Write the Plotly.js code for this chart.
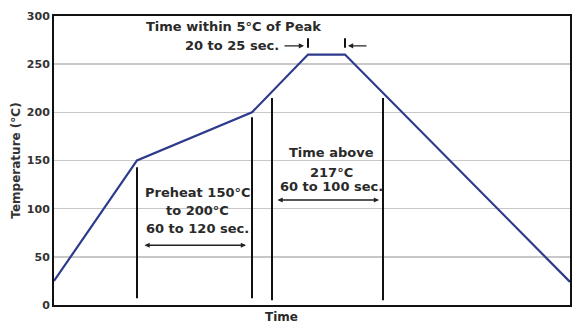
<!DOCTYPE html>
<html><head><meta charset="utf-8">
<script src="https://cdn.plot.ly/plotly-3.0.1.min.js"></script>
<style>html,body{margin:0;padding:0;background:#fff}#c{width:574px;height:323px}</style>
</head><body><div id="c"></div>
<script>
// Reflow profile (time in arbitrary units, temperature in °C)
var profileTime = [0, 83, 198, 254, 291, 516];
var profileTemp = [25, 150, 200, 260, 260, 24];

// Vertical marker lines: x position, top temp, bottom temp
var markerX = [83, 198, 218, 329];
var markerTop = [143, 195, 215, 215];
var markerBottom = [7, 7, 5, 5];

// Peak-window ticks
var peakTickX = [254, 291];
var peakTickTop = 277, peakTickBottom = 267;

// Span arrows: [x0, x1, y]
var preheatSpan = [89, 192, 62];
var aboveSpan = [222, 325, 109];

var yTicks = [0, 50, 100, 150, 200, 250, 300];

var textColor = '#2a2a2a';
var fam = 'DejaVu Sans, Verdana, sans-serif';
var font = {family: fam, size: 13, color: textColor, weight: 'bold'};

var shapes = [];
markerX.forEach(function(x, i){
  shapes.push({type:'line', xref:'x', yref:'y', x0:x, x1:x, y0:markerBottom[i], y1:markerTop[i], line:{color:'#111', width:2}});
});
peakTickX.forEach(function(x){
  shapes.push({type:'line', xref:'x', yref:'y', x0:x, x1:x, y0:peakTickBottom, y1:peakTickTop, line:{color:'#111', width:2}});
});

function arrow(x, y, ax, ay, both){
  return {x:x, y:y, ax:ax, ay:ay, xref:'x', yref:'y', axref:'x', ayref:'y', text:'', showarrow:true,
    arrowhead:2, startarrowhead:2, arrowside: both ? 'end+start' : 'end', arrowsize:0.8, arrowwidth:1.3, arrowcolor:'#222'};
}
function label(x, y, t){
  return {x:x, y:y, xref:'x', yref:'y', text:t, showarrow:false, font:font, xanchor:'center', yanchor:'middle'};
}

var annotations = [
  label(179, 289, 'Time within 5°C of Peak'),
  label(177.5, 269, '20 to 25 sec.'),
  arrow(250, 269, 229, 269, false),
  arrow(294, 269, 314, 269, false),
  label(143.5, 117, 'Preheat 150°C'),
  label(143.5, 97.6, 'to 200°C'),
  label(143.5, 79, '60 to 120 sec.'),
  arrow(preheatSpan[1], preheatSpan[2], preheatSpan[0], preheatSpan[2], true),
  label(277, 158, 'Time above'),
  label(277, 138, '217°C'),
  label(277, 122.5, '60 to 100 sec.'),
  arrow(aboveSpan[1], aboveSpan[2], aboveSpan[0], aboveSpan[2], true),
  {x:0.44, y:0, xref:'paper', yref:'paper', yshift:-12, text:'Time', showarrow:false, font:{family:fam, size:12, color:textColor, weight:'bold'}, xanchor:'center', yanchor:'middle'}
];

var trace = {x: profileTime, y: profileTemp, type:'scatter', mode:'lines', line:{color:'#2e3a8c', width:2.2}, hoverinfo:'skip'};

var layout = {
  width:574, height:323,
  margin:{l:54, r:4, t:16, b:18},
  paper_bgcolor:'#fff', plot_bgcolor:'#fff',
  showlegend:false,
  xaxis:{range:[0,516], showticklabels:false, ticks:'', showgrid:false, zeroline:false,
    showline:true, mirror:true, linecolor:'#111', linewidth:2},
  yaxis:{range:[0,300], tickvals:yTicks, ticktext:yTicks.map(String), ticks:'', showgrid:true, gridcolor:'#c8c8c8', gridwidth:1.5,
    zeroline:false, showline:true, mirror:true, linecolor:'#111', linewidth:2,
    tickfont:{family:fam, size:11, color:'#333', weight:'bold'},
    title:{text:'Temperature (°C)', font:{family:fam, size:12, color:'#333', weight:'bold'}, standoff:4}},
  shapes:shapes,
  annotations:annotations
};
Plotly.newPlot('c', [trace], layout, {staticPlot:true});
</script></body></html>
